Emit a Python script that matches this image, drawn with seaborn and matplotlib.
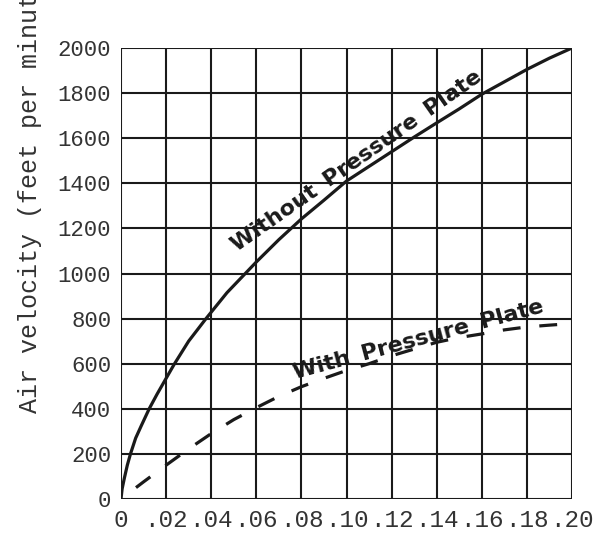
import matplotlib
matplotlib.use("Agg")
import matplotlib.pyplot as plt
import seaborn as sns
import pandas as pd

# pressure (x) vs air velocity
without_x = [0, 0.0005, 0.0015, 0.0028, 0.0042, 0.0065, 0.009, 0.0125, 0.016,
             0.020, 0.0235, 0.030, 0.0377, 0.047, 0.060, 0.070, 0.080, 0.090,
             0.100, 0.110, 0.120, 0.130, 0.140, 0.150, 0.160, 0.170, 0.180,
             0.190, 0.200]
without_y = [0, 45, 93, 150, 200, 270, 325, 400, 465,
             535, 596, 700, 800, 915, 1051, 1150, 1242, 1325,
             1410, 1475, 1540, 1605, 1668, 1730, 1795, 1850, 1905,
             1955, 2000]

with_x = [0, 0.01, 0.02, 0.03, 0.04, 0.05, 0.06, 0.07, 0.08, 0.09, 0.10,
          0.11, 0.12, 0.13, 0.14, 0.15, 0.16, 0.17, 0.18, 0.19, 0.20]
with_y = [0, 76, 150, 222, 290, 352, 405, 455, 498, 535, 570,
          600, 635, 665, 695, 716, 732, 750, 763, 771, 778]

x_ticks = [0, 0.02, 0.04, 0.06, 0.08, 0.10, 0.12, 0.14, 0.16, 0.18, 0.20]
x_tick_labels = ["0", ".02", ".04", ".06", ".08", ".10", ".12", ".14", ".16", ".18", ".20"]
y_ticks = [0, 200, 400, 600, 800, 1000, 1200, 1400, 1600, 1800, 2000]

sns.set_style("white")

fig = plt.figure(figsize=(6.07, 5.33), dpi=100)
ax = fig.add_axes([121 / 607, 34 / 533, 451 / 607, 451 / 533])

df_without = pd.DataFrame({"x": without_x, "y": without_y})
df_with = pd.DataFrame({"x": with_x, "y": with_y})

ink = "#1a1a1a"
sns.lineplot(data=df_without, x="x", y="y", ax=ax, color=ink,
             linewidth=2.3, sort=False, zorder=3)
sns.lineplot(data=df_with, x="x", y="y", ax=ax, color=ink,
             linewidth=2.3, sort=False, zorder=3)
# dashed line starts with a gap at the origin
ax.lines[-1].set_linestyle((5.6, (5.6, 5.9)))
ax.lines[-1].set_dash_capstyle("butt")

ax.set_xlim(0, 0.2)
ax.set_ylim(0, 2000)
ax.set_xticks(x_ticks)
ax.set_xticklabels(x_tick_labels)
ax.set_yticks(y_ticks)

ax.grid(True, color=ink, linewidth=1.5)
ax.set_axisbelow(True)
for s in ax.spines.values():
    s.set_visible(False)

mono = "Liberation Mono"
ax.tick_params(axis="both", length=0, colors="#333333")
for lab in ax.get_yticklabels():
    lab.set_fontfamily(mono)
    lab.set_fontsize(16)
for lab in ax.get_xticklabels():
    lab.set_fontfamily(mono)
    lab.set_fontsize(17.5)
ax.tick_params(axis="y", pad=7)
ax.tick_params(axis="x", pad=7)

ax.set_xlabel("")
ax.set_ylabel("Air velocity (feet per minute)", fontfamily=mono, fontsize=18,
              color="#333333", ha="left", va="center")
ax.yaxis.set_label_coords(-0.2018, 0.19)

# curve labels
ax.text(0.1047, 1500, "Without\u2009 Pressure\u2009 Plate", rotation=35,
        rotation_mode="anchor", ha="center", va="center",
        fontfamily="DejaVu Sans", fontweight="bold", fontsize=16, color=ink)
ax.text(0.1317, 705, "With\u2009 Pressure\u2009 Plate", rotation=15,
        rotation_mode="anchor", ha="center", va="center",
        fontfamily="DejaVu Sans", fontweight="bold", fontsize=16, color=ink)

fig.savefig("out.png", dpi=100)
